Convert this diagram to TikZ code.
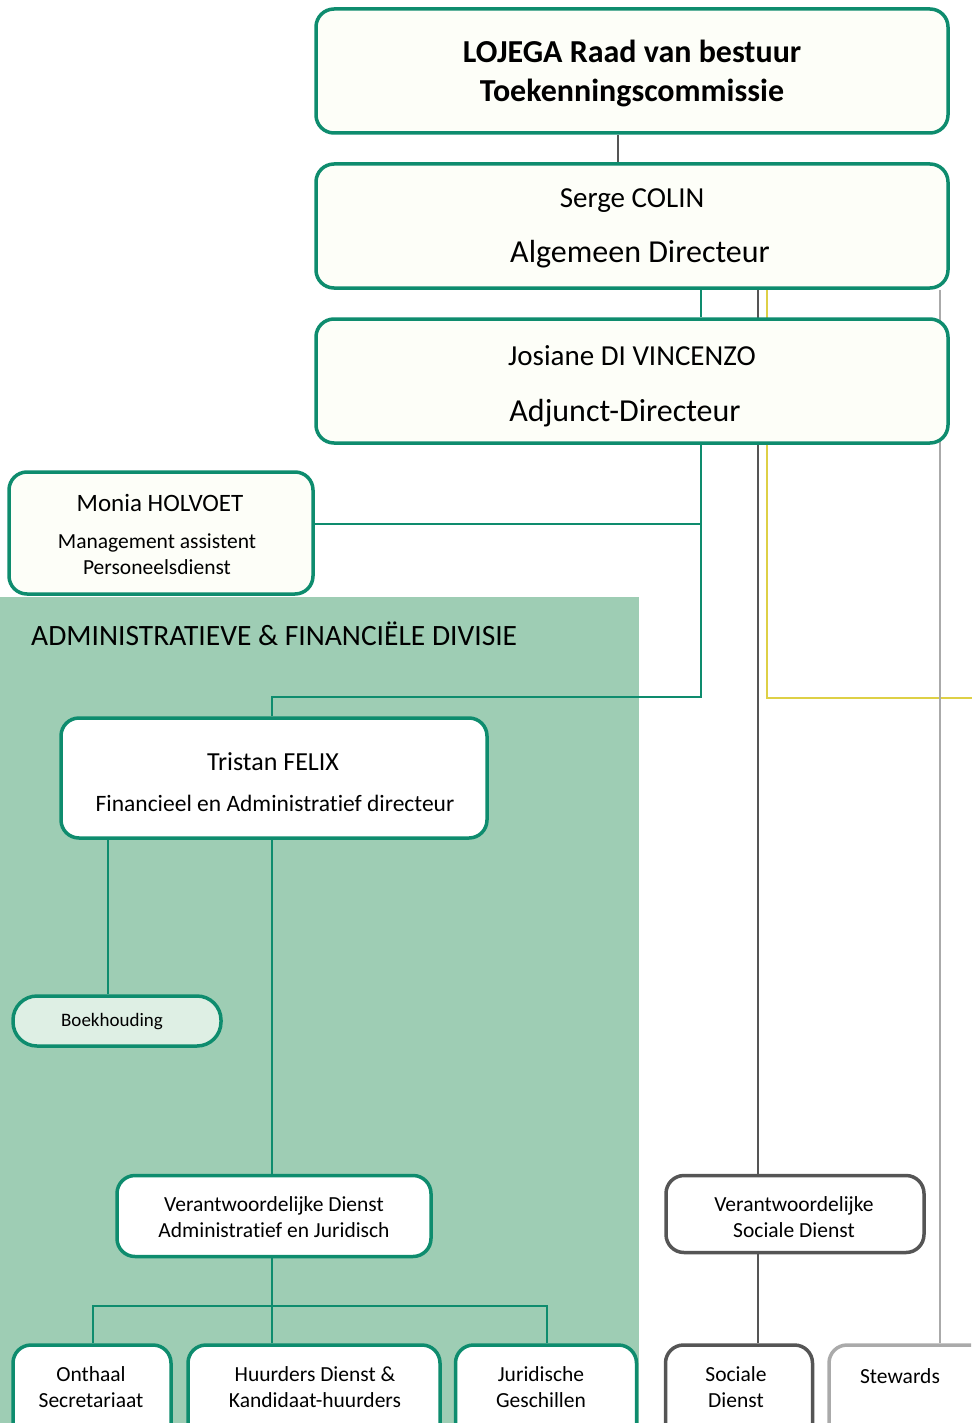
\documentclass[tikz,border=0pt]{standalone}
\usepackage{fontspec}
\setmainfont{Carlito}[Ligatures=NoCommon]
\definecolor{teal1}{RGB}{14,140,110}
\definecolor{bggreen}{RGB}{158,205,180}
\definecolor{ylw}{RGB}{222,208,70}
\definecolor{dgrey}{RGB}{85,85,85}
\definecolor{lgrey}{RGB}{170,170,170}
\definecolor{boxfill}{RGB}{253,254,248}
\definecolor{pillfill}{RGB}{222,239,228}
\pgfdeclarelayer{back}
\pgfdeclarelayer{lines}
\pgfsetlayers{back,lines,main}
\tikzset{
  box/.style={draw=teal1, line width=3.5pt, rounded corners=18pt, fill=boxfill, inner sep=0pt},
  tline/.style={draw=teal1, line width=2.8pt},
  gline/.style={draw=dgrey, line width=2.8pt},
  txt/.style={inner sep=0pt, align=center, font=\fontsize{21.5}{26}\selectfont},
}
\begin{document}
\begin{tikzpicture}[x=1pt,y=-1pt]
\useasboundingbox (0,0) rectangle (971,1423);
\clip (0,0) rectangle (971,1423);
\begin{pgfonlayer}{back}
\fill[bggreen] (0,597) rectangle (639,1423);
\end{pgfonlayer}
% coordinates for connector bends
\coordinate (b1) at (701,697);
\coordinate (b2) at (272,697);
\coordinate (m1) at (701,524);
\coordinate (y1) at (767,698);
\coordinate (y2) at (975,698);
\coordinate (h1) at (93,1306);
\coordinate (h2) at (547,1306);
\coordinate (h0) at (272,1306);
% boxes
\node[box, minimum width=632pt, minimum height=124pt] (raad) at (632,71) {};
\node[box, minimum width=632pt, minimum height=124pt] (serge) at (632,226) {};
\node[box, minimum width=632pt, minimum height=124pt] (josiane) at (632,381) {};
\node[box, minimum width=304pt, minimum height=122pt] (monia) at (161,533) {};
\node[box, fill=white, minimum width=426pt, minimum height=120pt] (tristan) at (274,778) {};
\node[box, fill=pillfill, rounded corners=24pt, minimum width=208pt, minimum height=50pt] (boek) at (117,1021) {};
\node[box, fill=white, minimum width=314pt, minimum height=81pt] (verad) at (274,1216) {};
\node[box, fill=white, minimum width=158pt, minimum height=110pt] (onthaal) at (92,1400) {};
\node[box, fill=white, minimum width=252pt, minimum height=110pt] (huurders) at (314,1400) {};
\node[box, fill=white, minimum width=181pt, minimum height=110pt] (jur) at (546,1400) {};
\node[box, draw=dgrey, fill=white, minimum width=258pt, minimum height=77pt] (versoc) at (795,1214) {};
\node[box, draw=dgrey, fill=white, minimum width=147pt, minimum height=110pt] (soc) at (739,1400) {};
\node[box, draw=lgrey, fill=white, minimum width=160pt, minimum height=110pt] (stew) at (909,1400) {};
% connectors
\begin{pgfonlayer}{lines}
\draw[gline] (raad.south -| 618,0) -- (serge.north -| 618,0);
\draw[tline] (serge.south -| b1) -- (josiane.north -| b1);
\draw[tline] (josiane.south -| b1) -- (b1) -- (b2) -- (tristan.north -| b2);
\draw[tline] (m1) -- (monia.east |- m1);
\draw[gline] (serge.south -| 758,0) -- (versoc.north -| 758,0);
\draw[gline] (versoc.south -| 758,0) -- (soc.north -| 758,0);
\draw[draw=ylw, line width=2.8pt] (serge.south -| y1) -- (y1) -- (y2);
\draw[draw=lgrey, line width=2.8pt] (serge.south -| 940,0) -- (stew.north -| 940,0);
\draw[tline] (tristan.south -| 108,0) -- (boek.north -| 108,0);
\draw[tline] (tristan.south -| 272,0) -- (verad.north -| 272,0);
\draw[tline] (verad.south -| h0) -- (huurders.north -| h0);
\draw[tline] (onthaal.north -| h1) -- (h1) -- (h2) -- (jur.north -| h2);
\end{pgfonlayer}
% texts
\node[txt, font=\fontsize{32}{39}\selectfont\bfseries] (t1) at (632,73) {LOJEGA Raad van bestuur\\Toekenningscommissie};
\node[txt, font=\fontsize{29}{30}\selectfont] (t2) at (632,201) {Serge COLIN};
\node[txt, font=\fontsize{32}{30}\selectfont] (t3) at (640,254) {Algemeen Directeur};
\node[txt, font=\fontsize{29}{30}\selectfont] (t4) at (632,356) {Josiane DI VINCENZO};
\node[txt, font=\fontsize{32}{30}\selectfont] (t5) at (625,413) {Adjunct-Directeur};
\node[txt, font=\fontsize{25}{26}\selectfont] (t6) at (160,503) {Monia HOLVOET};
\node[txt, font=\fontsize{21.5}{26}\selectfont] (t7) at (157,554) {Management assistent\\Personeelsdienst};
\node[txt, font=\fontsize{29.5}{30}\selectfont, anchor=west] (t8) at (31,634) {ADMINISTRATIEVE \& FINANCIËLE DIVISIE};
\node[txt, font=\fontsize{26}{26}\selectfont] (t9) at (273,762) {Tristan FELIX};
\node[txt, font=\fontsize{23.5}{26}\selectfont] (t10) at (275,803) {Financieel en Administratief directeur};
\node[txt, font=\fontsize{19}{20}\selectfont] (t11) at (112,1022) {Boekhouding};
\node[txt] (t12) at (274,1217) {Verantwoordelijke Dienst\\Administratief en Juridisch};
\node[txt] (t13) at (91,1387) {Onthaal\\Secretariaat};
\node[txt] (t14) at (315,1387) {Huurders Dienst \&\\Kandidaat-huurders};
\node[txt] (t15) at (541,1387) {Juridische\\Geschillen};
\node[txt] (t16) at (794,1217) {Verantwoordelijke\\Sociale Dienst};
\node[txt] (t17) at (736,1387) {Sociale\\Dienst};
\node[txt] (t18) at (900,1376) {Stewards};
\end{tikzpicture}
\end{document}
